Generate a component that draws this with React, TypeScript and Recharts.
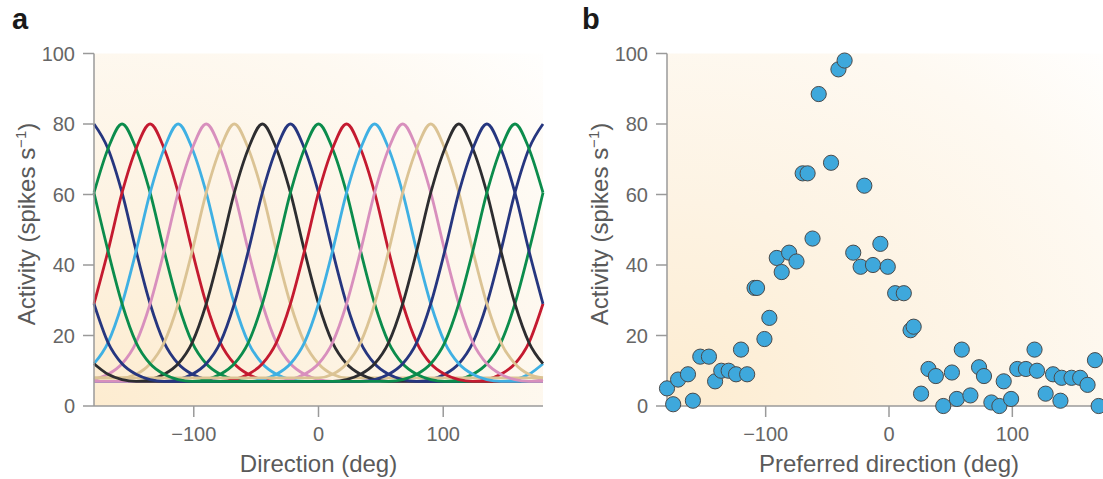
import {
  CartesianGrid,
  Label,
  Line,
  LineChart,
  Scatter,
  ScatterChart,
  XAxis,
  YAxis,
} from "recharts";

// panel a: 16 direction tuning curves
const DIRECTIONS = [
  -180, -168.75, -157.5, -146.25, -135, -123.75, -112.5, -101.25, -90, -78.75,
  -67.5, -56.25, -45, -33.75, -22.5, -11.25, 0, 11.25, 22.5, 33.75, 45, 56.25,
  67.5, 78.75, 90, 101.25, 112.5, 123.75, 135, 146.25, 157.5, 168.75, 180,
];
const PREFERRED = [
  -180, -157.5, -135, -112.5, -90, -67.5, -45, -22.5, 0, 22.5, 45, 67.5, 90,
  112.5, 135, 157.5,
];
// activity at |offset from preferred| = 0, 11.25, 22.5 ...
const TUNING_PROFILE = [80, 73, 60.5, 44, 29, 18, 12, 9, 7.5, 7, 7, 7, 7, 7, 7, 7, 7];
const CURVE_FLOOR = [7, 7, 7, 7, 7, 8, 7, 7, 7, 7, 7, 7, 8, 7, 7, 7];
const CURVE_COLORS = [
  "#26367f", "#0b8c4c", "#c41a30", "#3fb0e3", "#d88fbd", "#dbc394", "#2d2d30",
  "#26367f", "#0b8c4c", "#c41a30", "#3fb0e3", "#d88fbd", "#dbc394", "#2d2d30",
  "#26367f", "#0b8c4c",
];

// panel b: population response
const PREF_DIR_B = [
  -180, -175, -171, -163, -159, -153, -146, -141, -136, -130, -124, -120, -115,
  -109, -107, -101, -97, -91, -87, -81, -75, -70, -66, -62, -57, -47, -41, -36,
  -29, -23, -20, -13, -7, -1, 5, 12, 17.5, 20, 26, 32, 38, 44, 51, 55, 59, 66,
  73, 77, 83, 89.5, 93, 99, 104, 111, 118, 120, 127, 133, 139, 140, 148, 155,
  161, 167, 170,
];
const ACTIVITY_B = [
  5, 0.5, 7.5, 9, 1.5, 14, 14, 7, 10, 10, 9, 16, 9, 33.5, 33.5, 19, 25, 42, 38,
  43.5, 41, 66, 66, 47.5, 88.5, 69, 95.5, 98, 43.5, 39.5, 62.5, 40, 46, 39.5,
  32, 32, 21.5, 22.5, 3.5, 10.5, 8.5, 0, 9.5, 2, 16, 3, 11, 8.5, 1, 0, 7, 2,
  10.5, 10.5, 16, 10, 3.5, 9, 1.5, 8, 8, 8, 6, 13, 0,
];

const X_TICKS = [-100, 0, 100];
const Y_TICKS = [0, 20, 40, 60, 80, 100];

const FONT = '"Liberation Sans", Arial, sans-serif';
const AXIS = "#9a9a9a";
const TICK_TEXT = "#666666";
const TITLE_TEXT = "#5a5a5a";

const curveRows = DIRECTIONS.map((d) => {
  const row: Record<string, number> = { dir: d };
  PREFERRED.forEach((p, i) => {
    const off = Math.abs(((((d - p) % 360) + 540) % 360) - 180);
    row[`c${i}`] = Math.max(TUNING_PROFILE[Math.round(off / 11.25)], CURVE_FLOOR[i]);
  });
  return row;
});

const points = PREF_DIR_B.map((x, i) => ({ x, y: ACTIVITY_B[i] }));

const fmt = (v: number) => String(v).replace("-", "\u2212");

const tickStyle = { fill: TICK_TEXT, fontSize: 20, fontFamily: FONT };

const yTitle = (x: number, y: number) => () => (
  <text
    x={x}
    y={y}
    transform={`rotate(-90 ${x} ${y})`}
    textAnchor="middle"
    fontSize={24}
    fontFamily={FONT}
    fill={TITLE_TEXT}
  >
    Activity (spikes s
    <tspan dy={-9} fontSize={15}>
      −1
    </tspan>
    <tspan dy={9}>)</tspan>
  </text>
);

const xTitle = (text: string, x: number) => () => (
  <text x={x} y={472} textAnchor="middle" fontSize={24} fontFamily={FONT} fill={TITLE_TEXT}>
    {text}
  </text>
);

const Dot = (props: any) => (
  <circle cx={props.cx} cy={props.cy} r={7.6} fill="#3ea8dc" stroke="#4a4a4a" strokeWidth={1} />
);

const gradient = (id: string) => (
  <defs>
    <radialGradient id={id} cx="0" cy="1" r="1.45">
      <stop offset="0" stopColor="#fdecd0" />
      <stop offset="0.4" stopColor="#fdf3e3" />
      <stop offset="0.75" stopColor="#fef9f1" />
      <stop offset="1" stopColor="#ffffff" />
    </radialGradient>
  </defs>
);

const panelLetter = (left: number): React.CSSProperties => ({
  position: "absolute",
  left,
  top: 0,
  fontFamily: FONT,
  fontWeight: "bold",
  fontSize: 29,
  lineHeight: "38px",
  color: "#1a1a1a",
});

export default function App() {
  return (
    <div
      style={{
        position: "absolute",
        left: 0,
        top: 0,
        width: 1103,
        height: 479,
        overflow: "hidden",
        background: "#fff",
      }}
    >
      <div style={panelLetter(12)}>a</div>
      <div style={panelLetter(582)}>b</div>

      <div style={{ position: "absolute", left: 0, top: 0 }}>
        <LineChart
          width={560}
          height={479}
          data={curveRows}
          margin={{ top: 53.5, right: 17, bottom: 0, left: 0 }}
        >
          {gradient("bgA")}
          <CartesianGrid horizontal={false} vertical={false} fill="url(#bgA)" fillOpacity={1} />
          <XAxis
            type="number"
            dataKey="dir"
            domain={[-180, 180]}
            ticks={X_TICKS}
            tickFormatter={fmt}
            height={73}
            tickSize={11}
            tickMargin={10}
            tick={tickStyle}
            stroke={AXIS}
            strokeWidth={1.5}
          >
            <Label content={xTitle("Direction (deg)", 318.5)} />
          </XAxis>
          <YAxis
            type="number"
            domain={[0, 100]}
            ticks={Y_TICKS}
            width={94}
            tickSize={11}
            tickMargin={8}
            tick={tickStyle}
            stroke={AXIS}
            strokeWidth={1.5}
          >
            <Label content={yTitle(35, 224)} />
          </YAxis>
          {PREFERRED.map((_, i) => (
            <Line
              key={i}
              type="monotone"
              dataKey={`c${i}`}
              stroke={CURVE_COLORS[i]}
              strokeWidth={2.8}
              dot={false}
              activeDot={false}
              isAnimationActive={false}
            />
          ))}
        </LineChart>
      </div>

      <div style={{ position: "absolute", left: 560, top: 0 }}>
        <ScatterChart
          width={560}
          height={479}
          margin={{ top: 53.5, right: 9, bottom: 0, left: 0 }}
        >
          {gradient("bgB")}
          <CartesianGrid horizontal={false} vertical={false} fill="url(#bgB)" fillOpacity={1} />
          <XAxis
            type="number"
            dataKey="x"
            domain={[-180, 180]}
            ticks={X_TICKS}
            tickFormatter={fmt}
            height={73}
            tickSize={11}
            tickMargin={10}
            tick={tickStyle}
            stroke={AXIS}
            strokeWidth={1.5}
          >
            <Label content={xTitle("Preferred direction (deg)", 329)} />
          </XAxis>
          <YAxis
            type="number"
            dataKey="y"
            domain={[0, 100]}
            ticks={Y_TICKS}
            width={107}
            tickSize={11}
            tickMargin={8}
            tick={tickStyle}
            stroke={AXIS}
            strokeWidth={1.5}
          >
            <Label content={yTitle(48, 224)} />
          </YAxis>
          <Scatter data={points} shape={Dot} isAnimationActive={false} />
        </ScatterChart>
      </div>
    </div>
  );
}
